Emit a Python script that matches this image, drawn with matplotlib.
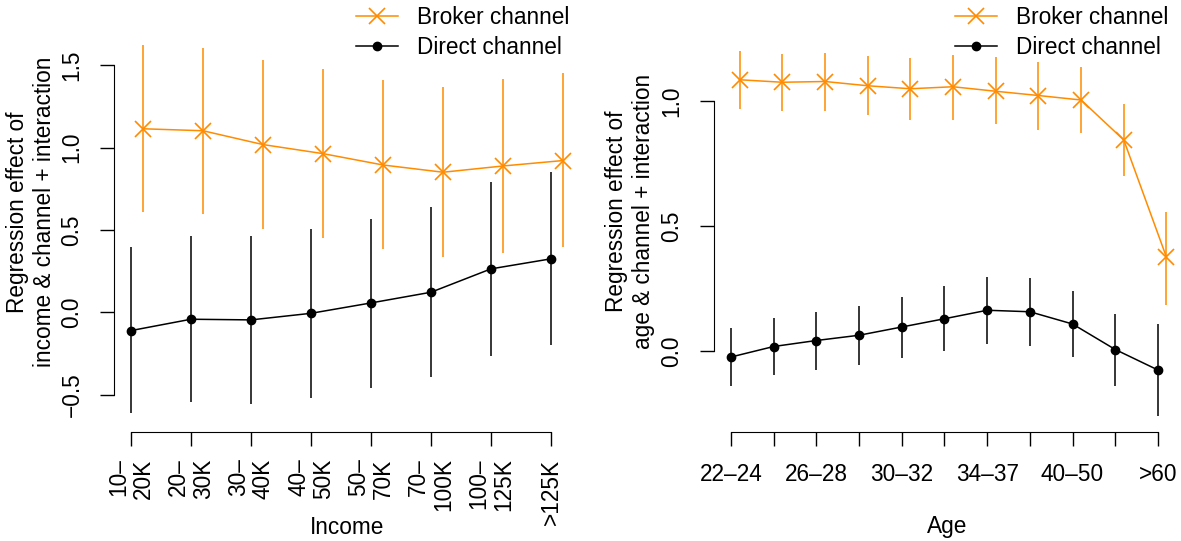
import numpy as np
import matplotlib
matplotlib.use("Agg")
from matplotlib import pyplot as plt

plt.rcParams["font.family"] = ["Liberation Sans", "DejaVu Sans"]
plt.rcParams["font.size"] = 16.3

ORANGE = "#FF8C00"

# Income model: point estimates and 95% intervals
income_labels = ["10\u2013\n20K", "20\u2013\n30K", "30\u2013\n40K", "40\u2013\n50K",
                 "50\u2013\n70K", "70\u2013\n100K", "100\u2013\n125K", ">125K"]
income_broker = [1.115, 1.103, 1.019, 0.964, 0.895, 0.851, 0.889, 0.922]
income_broker_hi = [1.623, 1.608, 1.530, 1.478, 1.409, 1.367, 1.415, 1.451]
income_broker_lo = [0.612, 0.595, 0.509, 0.451, 0.382, 0.338, 0.358, 0.396]
income_direct = [-0.111, -0.042, -0.046, -0.006, 0.057, 0.122, 0.264, 0.325]
income_direct_hi = [0.394, 0.463, 0.463, 0.509, 0.568, 0.637, 0.792, 0.851]
income_direct_lo = [-0.614, -0.547, -0.556, -0.520, -0.459, -0.392, -0.266, -0.201]

# Age model
age_labels = ["22\u201324", "24\u201326", "26\u201328", "28\u201330", "30\u201332", "32\u201334",
              "34\u201337", "37\u201340", "40\u201350", "50\u201360", ">60"]
age_broker = [1.085, 1.075, 1.078, 1.061, 1.049, 1.057, 1.039, 1.022, 1.004, 0.844, 0.375]
age_broker_hi = [1.200, 1.189, 1.194, 1.181, 1.171, 1.186, 1.176, 1.156, 1.135, 0.989, 0.557]
age_broker_lo = [0.968, 0.960, 0.960, 0.944, 0.924, 0.926, 0.907, 0.886, 0.871, 0.699, 0.186]
age_direct = [-0.024, 0.018, 0.042, 0.063, 0.096, 0.129, 0.163, 0.157, 0.108, 0.006, -0.076]
age_direct_hi = [0.093, 0.133, 0.157, 0.181, 0.218, 0.260, 0.296, 0.293, 0.240, 0.150, 0.110]
age_direct_lo = [-0.139, -0.097, -0.076, -0.056, -0.028, -0.001, 0.028, 0.021, -0.024, -0.140, -0.261]


def effect_panel(ax, labels, broker, b_lo, b_hi, direct, d_lo, d_hi):
    x = np.arange(1, len(labels) + 1)
    xb = x + 0.2
    ax.vlines(xb, b_lo, b_hi, color=ORANGE, lw=1.1)
    ax.plot(xb, broker, color=ORANGE, marker="x", ms=11, mew=1.2, lw=1.1,
            label="Broker channel")
    ax.vlines(x, d_lo, d_hi, color="black", lw=1.1)
    ax.plot(x, direct, color="black", marker="o", ms=6, lw=1.1,
            label="Direct channel")
    for s in ("top", "right"):
        ax.spines[s].set_visible(False)
    ax.spines["bottom"].set_bounds(x[0], x[-1])
    ax.set_xticks(x)
    ax.tick_params(length=10, width=1, direction="out")
    return x


def add_legend(ax, left_px):
    ax.legend(loc="upper left", bbox_to_anchor=(left_px / 1181, 1 - 6 / 541),
              bbox_transform=fig.transFigure, frameon=False, borderpad=0,
              borderaxespad=0, handlelength=1.85, handletextpad=0.85,
              labelspacing=0.32)


fig = plt.figure(figsize=(11.81, 5.41), dpi=100)

# left: income
ax1 = fig.add_axes([114 / 1181, 1 - 432 / 541, 466 / 1181, 402 / 541])
x1 = effect_panel(ax1, income_labels, income_broker, income_broker_lo, income_broker_hi,
                  income_direct, income_direct_lo, income_direct_hi)
ax1.set_xlim(0.717, 8.483)
ax1.set_ylim(-0.727, 1.715)
ax1.set_yticks([-0.5, 0.0, 0.5, 1.0, 1.5])
ax1.set_yticklabels(["\u22120.5", "0.0", "0.5", "1.0", "1.5"])
ax1.spines["left"].set_bounds(-0.5, 1.5)
ax1.set_xticklabels(income_labels, rotation=90, va="top", ha="center",
                    multialignment="right", linespacing=1.1)
ax1.tick_params(axis="x", pad=9)
ax1.tick_params(axis="y", pad=12)
plt.setp(ax1.get_yticklabels(), rotation=90, va="center")
add_legend(ax1, 356)
fig.text(347 / 1181, 1 - 527 / 541, "Income", ha="center", va="center")
fig.text(31 / 1181, 1 - 212 / 541,
         "Regression effect of\nincome & channel + interaction",
         rotation=90, ha="center", va="center", multialignment="center",
         linespacing=1.2)

# right: age
ax2 = fig.add_axes([714 / 1181, 1 - 432 / 541, 467 / 1181, 402 / 541])
x2 = effect_panel(ax2, age_labels, age_broker, age_broker_lo, age_broker_hi,
                  age_direct, age_direct_lo, age_direct_hi)
ax2.set_xlim(0.602, 11.54)
ax2.set_ylim(-0.324, 1.284)
ax2.set_yticks([0.0, 0.5, 1.0])
ax2.set_yticklabels(["0.0", "0.5", "1.0"])
ax2.spines["left"].set_bounds(0.0, 1.0)
ax2.set_xticklabels([lab if i % 2 == 0 else "" for i, lab in enumerate(age_labels)])
ax2.tick_params(axis="x", pad=12)
ax2.tick_params(axis="y", pad=12)
plt.setp(ax2.get_yticklabels(), rotation=90, va="center")
add_legend(ax2, 955)
fig.text(947 / 1181, 1 - 527 / 541, "Age", ha="center", va="center")
fig.text(630 / 1181, 1 - 211 / 541,
         "Regression effect of\nage & channel + interaction",
         rotation=90, ha="center", va="center", multialignment="center",
         linespacing=1.2)

fig.savefig("out.png", dpi=100)
